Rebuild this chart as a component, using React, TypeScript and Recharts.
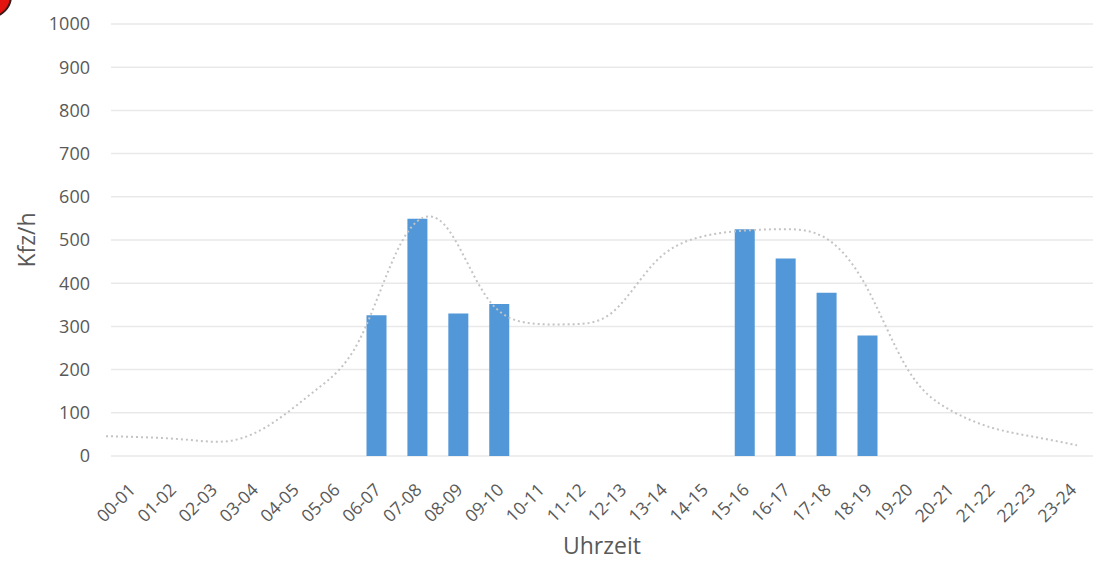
import {
  ComposedChart,
  Bar,
  Line,
  XAxis,
  YAxis,
  CartesianGrid,
} from "recharts";

// hour intervals on the x axis
const hours = [
  "00-01", "01-02", "02-03", "03-04", "04-05", "05-06", "06-07", "07-08",
  "08-09", "09-10", "10-11", "11-12", "12-13", "13-14", "14-15", "15-16",
  "16-17", "17-18", "18-19", "19-20", "20-21", "21-22", "22-23", "23-24",
];

// counted traffic (bars), only the measured hours have values
const counted = [
  null, null, null, null, null, null, 326, 549, 330, 352, null, null,
  null, null, null, 525, 457, 378, 279, null, null, null, null, null,
];

// typical daily curve (dotted grey line)
const typical = [
  46, 43, 37, 36, 80, 155, 268, 495, 537, 370, 308, 305,
  333, 448, 505, 521, 525, 507, 394, 199, 106, 65, 44, 25,
];

const yTicks = [0, 100, 200, 300, 400, 500, 600, 700, 800, 900, 1000];

const rows = hours.map((hour, i) => ({
  hour,
  idx: i,
  counted: counted[i],
  typical: typical[i],
}));

const FONT = "'Open Sans', sans-serif";
const TEXT = "#595959";

const HourTick = (props: any) => {
  const { x, y, payload } = props;
  return (
    <text
      transform={`translate(${x + 5},${y + 35}) rotate(-45)`}
      textAnchor="end"
      fontFamily={FONT}
      fontSize={17.5}
      fill={TEXT}
    >
      {payload.value}
    </text>
  );
};

const App = () => {
  return (
    <div style={{ position: "absolute", left: 0, top: 0, width: 1097, height: 562, background: "#fff", overflow: "hidden" }}>
      <div
        style={{
          position: "absolute",
          left: -32,
          top: -26,
          width: 40,
          height: 40,
          borderRadius: "50%",
          background: "#e3140f",
          border: "2px solid #3a1a1a",
        }}
      />
      <ComposedChart
        width={1097}
        height={562}
        data={rows}
        margin={{ top: 24, right: 4, left: 0, bottom: 0 }}
      >
        <CartesianGrid vertical={false} stroke="#e9e9e9" strokeWidth={1.5} />
        <XAxis
          xAxisId="cat"
          dataKey="hour"
          interval={0}
          height={106}
          axisLine={false}
          tickLine={false}
          tickSize={0}
          tickMargin={0}
          tick={<HourTick />}
          label={{
            value: "Uhrzeit",
            position: "insideBottom",
            offset: 8,
            fontFamily: FONT,
            fontSize: 23,
            fill: TEXT,
          }}
        />
        <XAxis
          xAxisId="t"
          type="number"
          dataKey="idx"
          domain={[0, 23]}
          hide
          padding={{ left: -5, right: 16 }}
        />
        <YAxis
          width={111}
          domain={[0, 1000]}
          ticks={yTicks}
          interval={0}
          axisLine={false}
          tickLine={false}
          tickSize={0}
          tickMargin={21}
          tick={{ fontFamily: FONT, fontSize: 18, fill: TEXT }}
          label={{
            value: "Kfz/h",
            angle: -90,
            position: "insideLeft",
            offset: 27,
            fontFamily: FONT,
            fontSize: 23,
            fill: TEXT,
            style: { textAnchor: "middle" },
          }}
        />
        <Bar
          xAxisId="cat"
          dataKey="counted"
          fill="#5297D8"
          barSize={20}
          isAnimationActive={false}
        />
        <Line
          xAxisId="t"
          dataKey="typical"
          type="natural"
          stroke="#c4c4c4"
          strokeWidth={2}
          strokeDasharray="2 3"
          dot={false}
          activeDot={false}
          isAnimationActive={false}
        />
      </ComposedChart>
    </div>
  );
};

export default App;
